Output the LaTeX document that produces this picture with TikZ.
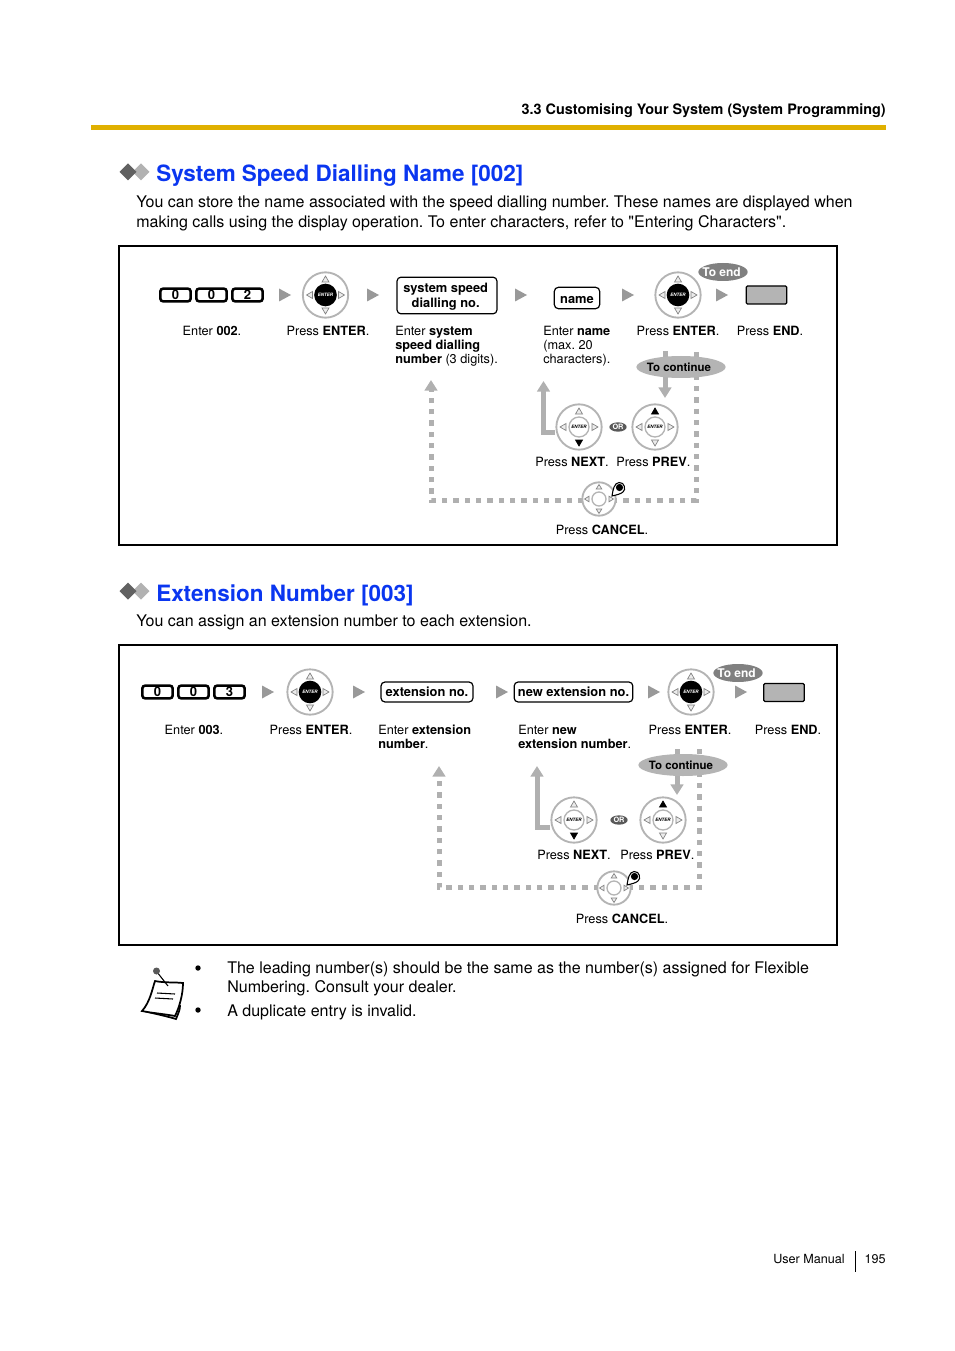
\documentclass[tikz,border=0pt]{standalone}
\usepackage{fontspec}
\setmainfont[Ligatures=TeXOff]{TeX Gyre Heros}
\frenchspacing
\usetikzlibrary{positioning,arrows.meta,shapes.geometric}

\definecolor{barcol}{HTML}{E0B000}
\definecolor{titlecol}{HTML}{0A36F0}
\definecolor{tricol}{HTML}{999999}
\definecolor{routecol}{HTML}{B0B0B0}
\definecolor{ringcol}{HTML}{B4B4B4}

\tikzset{
  x=0.75pt, y=-0.75pt,
  title/.style={anchor=west, inner sep=0, text=titlecol, font=\bfseries\fontsize{16.85}{20}\selectfont},
  para/.style={anchor=west, inner sep=0, font=\fontsize{12.02}{15}\selectfont},
  small/.style={inner sep=0, align=left, font=\fontsize{9.55}{10.5}\selectfont},
  keycap/.style={draw, rounded corners=2pt, line width=1.9pt, minimum width=22.7pt, minimum height=9.5pt, inner sep=0, font=\bfseries\fontsize{9.8}{10}\selectfont},
  softkey/.style={draw, rounded corners=3pt, line width=0.9pt, inner sep=0, align=center, font=\bfseries\fontsize{9.65}{11}\selectfont},
  endkey/.style={draw, fill=ringcol, rounded corners=1pt, line width=0.9pt, minimum width=30.5pt, minimum height=13.5pt, inner sep=0},
  toend/.style={ellipse, fill=black!50, text=white, minimum width=37pt, minimum height=13.5pt, inner xsep=-4pt, inner ysep=0, font=\bfseries\fontsize{9}{10}\selectfont},
  tocont/.style={ellipse, fill=ringcol, minimum width=67pt, minimum height=16.5pt, inner xsep=-2pt, inner ysep=0, font=\bfseries\fontsize{8.6}{10}\selectfont},
  ornode/.style={ellipse, fill=black!65, text=white, minimum width=13pt, minimum height=7pt, inner sep=0, font=\bfseries\fontsize{5.5}{6}\selectfont},
  padring/.style={circle, draw=ringcol, fill=white, line width=1.4pt, inner sep=0},
  padblack/.style={circle, fill=black, text=white, minimum size=17pt, inner sep=0, font=\bfseries\itshape\fontsize{3.4}{4}\selectfont},
  padwhite/.style={circle, draw=ringcol, fill=white, line width=1pt, minimum size=15pt, inner sep=0, font=\bfseries\itshape\fontsize{3.4}{4}\selectfont},
  route/.style={draw=routecol, line width=3.75pt, -{Triangle[width=9.5pt,length=8pt]}},
  dashroute/.style={route, dash pattern=on 3.9pt off 4.6pt},
  idle/.style={draw=black!50, fill=black!8, line width=0.5pt},
  lit/.style={draw=black, fill=black, line width=0.5pt},
}

% name, x, y, centre style, top triangle, bottom triangle
\newcommand{\navpad}[6]{
\node[padring, minimum size=34pt] (#1) at (#2,#3) {};
\node[#4] (#1c) at (#1) {ENTER};
\begin{scope}[shift={(#2,#3)}]
\draw[#5] (0,-19) -- (3.5,-13) -- (-3.5,-13) -- cycle;
\draw[#6] (0,19) -- (3.5,13) -- (-3.5,13) -- cycle;
\draw[idle] (-19,0) -- (-13,3.5) -- (-13,-3.5) -- cycle;
\draw[idle] (19,0) -- (13,3.5) -- (13,-3.5) -- cycle;
\end{scope}
}

% name, x, y
\newcommand{\cancelpad}[3]{
\node[padring, minimum size=25pt] (#1) at (#2,#3) {};
\node[padring, line width=1pt, minimum size=10.5pt] (#1c) at (#1) {};
\begin{scope}[shift={(#2,#3)}]
\draw[idle] (0,-14.5) -- (2.8,-10) -- (-2.8,-10) -- cycle;
\draw[idle] (0,14.5) -- (2.8,10) -- (-2.8,10) -- cycle;
\draw[idle] (-14.5,0) -- (-10,2.8) -- (-10,-2.8) -- cycle;
\draw[idle] (14.5,0) -- (10,2.8) -- (10,-2.8) -- cycle;
\draw[fill=white, line width=0.8pt] (13,-3) .. controls (14,-9) and (15,-16) .. (20,-16.5) .. controls (26,-17) and (27,-9) .. (24,-7) .. controls (22,-5) and (17,-4) .. (13,-3) -- cycle;
\fill (20.5,-11.5) circle (3.6);
\end{scope}
}

\begin{document}
\begin{tikzpicture}
\useasboundingbox (0,0) rectangle (954,1351);

\node[anchor=east, inner sep=0, font=\bfseries\fontsize{10.8}{12}\selectfont] (chapter) at (886,110.5) {3.3 Customising Your System (System Programming)};
\fill[barcol] (91,125) rectangle (886,130);

\foreach \ty in {172,591} {
\fill[black!30] (141,\ty-8.5) -- (149.5,\ty) -- (141,\ty+8.5) -- (132.5,\ty) -- cycle;
\fill[black!62] (128,\ty-8.5) -- (136.5,\ty) -- (128,\ty+8.5) -- (119.5,\ty) -- cycle;
}

\node[title] (titlea) at (156,176) {System Speed Dialling Name [002]};
\node[para] (parab) at (136,203) {You can store the name associated with the speed dialling number. These names are displayed when};
\node[para] (parac) at (136,223) {making calls using the display operation. To enter characters, refer to "Entering Characters".};

\draw[line width=1pt] (119,246) rectangle (837,545);

\node[keycap] (a0) at (175.5,295) {0};
\node[keycap] (a1) at (211.5,295) {0};
\node[keycap] (a2) at (247.5,295) {2};
\foreach \tx in {279,367,515,622,716} {
\fill[tricol] (\tx,288.5) -- (\tx+12,295) -- (\tx,301.5) -- cycle;
}
\navpad{apad}{325.5}{295}{padblack}{idle}{idle}
\node[softkey, minimum width=75pt, minimum height=27.5pt] (asys) at (447,295.5) {\rule{0pt}{9pt}system speed\hspace*{2pt}\\dialling no.\hspace*{2pt}};
\node[softkey, minimum width=34pt, minimum height=16pt] (aname) at (577,298) {\rule{0pt}{8.5pt}name};
\navpad{aenter}{678}{295}{padblack}{idle}{idle}
\node[endkey] (aend) at (766.5,295) {};
\node[toend] (atoend) at (723,272) {To end\hspace*{2.2pt}};

\node[small] (la) at (212,331) {Enter \textbf{002}.};
\node[small] (lb) at (328,331) {Press \textbf{ENTER}.};
\node[small, anchor=north west] (lc) at (395,325.5) {Enter \textbf{system}\\\textbf{speed dialling}\\\textbf{number} (3 digits).};
\node[small, anchor=north west] (ld) at (543,325.5) {Enter \textbf{name}\\(max. 20\\characters).};
\node[small] (le) at (678,331) {Press \textbf{ENTER}.};
\node[small] (lf) at (770,331) {Press \textbf{END}.};

\coordinate (adown) at (665,351);
\coordinate (adownend) at (665,398);
\coordinate (aup) at (543.5,432);
\coordinate (aupend) at (543.5,381);
\coordinate (adash) at (696,352);
\coordinate (adasha) at (696,500);
\coordinate (adashb) at (431,500);
\coordinate (adashend) at (431,380);
\draw[route] (adown) -- (adownend);
\draw[dashroute] (adash) -- (adasha) -- (adashb) -- (adashend);
\node[tocont] (acont) at (681,367) {To continue\hspace*{3pt}};

\navpad{anext}{579}{427}{padwhite}{idle}{lit}
\navpad{aprev}{655}{427}{padwhite}{lit}{idle}
\draw[route] (anext.west |- aup) -- (aup) -- (aupend);
\node[ornode] (aor) at (618,427) {OR};
\node[small, anchor=west] (lg) at (535,462) {Press \textbf{NEXT}.};
\node[small, anchor=west] (lh) at (616,462) {Press \textbf{PREV}.};
\cancelpad{acancel}{599}{499}
\node[small] (li) at (602,530) {Press \textbf{CANCEL}.};

\node[title] (titleb) at (156,595) {Extension Number [003]};
\node[para] (parad) at (136,622) {You can assign an extension number to each extension.};

\draw[line width=1.5pt] (119,645) rectangle (837,945);

\node[keycap] (b0) at (157.5,692) {0};
\node[keycap] (b1) at (193.5,692) {0};
\node[keycap] (b2) at (229.5,692) {3};
\foreach \tx in {262,353,496,648,735} {
\fill[tricol] (\tx,685.5) -- (\tx+12,692) -- (\tx,698.5) -- cycle;
}
\navpad{bpad}{310}{692}{padblack}{idle}{idle}
\node[softkey, minimum width=69pt, minimum height=15pt] (bext) at (427,692) {extension no.};
\node[softkey, minimum width=89pt, minimum height=15pt] (bnew) at (573.5,692) {new extension no.};
\navpad{benter}{691}{692}{padblack}{idle}{idle}
\node[endkey] (bend) at (784,692.5) {};
\node[toend] (btoend) at (738,673) {To end\hspace*{2.2pt}};

\node[small] (ma) at (194,730) {Enter \textbf{003}.};
\node[small] (mb) at (311,730) {Press \textbf{ENTER}.};
\node[small, anchor=north west] (mc) at (378,724.5) {Enter \textbf{extension}\\\textbf{number}.};
\node[small, anchor=north west] (md) at (518,724.5) {Enter \textbf{new}\\\textbf{extension number}.};
\node[small] (me) at (690,730) {Press \textbf{ENTER}.};
\node[small] (mf) at (788,730) {Press \textbf{END}.};

\coordinate (bdown) at (677,749);
\coordinate (bdownend) at (677,795);
\coordinate (bup) at (537,827);
\coordinate (bupend) at (537,766);
\coordinate (bdash) at (699,749);
\coordinate (bdasha) at (699,887);
\coordinate (bdashb) at (439,887);
\coordinate (bdashend) at (439,766);
\draw[route] (bdown) -- (bdownend);
\draw[dashroute] (bdash) -- (bdasha) -- (bdashb) -- (bdashend);
\node[tocont] (bcont) at (683,765) {To continue\hspace*{3pt}};

\navpad{bnext}{574}{820}{padwhite}{idle}{lit}
\navpad{bprev}{663}{820}{padwhite}{lit}{idle}
\draw[route] (bnext.west |- bup) -- (bup) -- (bupend);
\node[ornode] (bor) at (619,820) {OR};
\node[small, anchor=west] (mg) at (537,855) {Press \textbf{NEXT}.};
\node[small, anchor=west] (mh) at (620,855) {Press \textbf{PREV}.};
\cancelpad{bcancel}{614}{888}
\node[small] (mi) at (622,919) {Press \textbf{CANCEL}.};

\draw[line width=1.3pt, fill=white] (148,1012) .. controls (156,1014) and (166,1016) .. (176,1019) .. controls (178,1014) and (180,1010) .. (180,1006) -- (172,1004) -- cycle;
\draw[line width=1.3pt, fill=white] (142,1011) .. controls (150,1002) and (152,990) .. (155,981) .. controls (165,983) and (174,982) .. (183,983) .. controls (183,995) and (179,1008) .. (175,1016) .. controls (164,1014) and (152,1013) .. (142,1011) -- cycle;
\draw[line width=0.8pt] (157,993) -- (175,994);
\draw[line width=0.8pt] (155,998) -- (173,999);
\draw[line width=0.8pt] (157,972) -- (168,986);
\fill[black!65] (156.5,971) circle (3.5);

\fill (198,968) circle (2.7);
\fill (198,1010) circle (2.7);
\node[para] (nota) at (227,969) {The leading number(s) should be the same as the number(s) assigned for Flexible};
\node[para] (notb) at (227,988) {Numbering. Consult your dealer.};
\node[para] (notc) at (227,1012) {A duplicate entry is invalid.};

\node[anchor=east, inner sep=0, font=\fontsize{9.45}{10}\selectfont] (foota) at (845,1259) {User Manual};
\draw[line width=0.6pt] (855,1251) -- (855,1272);
\node[anchor=east, inner sep=0, font=\fontsize{9.45}{10}\selectfont] (footb) at (886,1259) {195};
\end{tikzpicture}
\end{document}
